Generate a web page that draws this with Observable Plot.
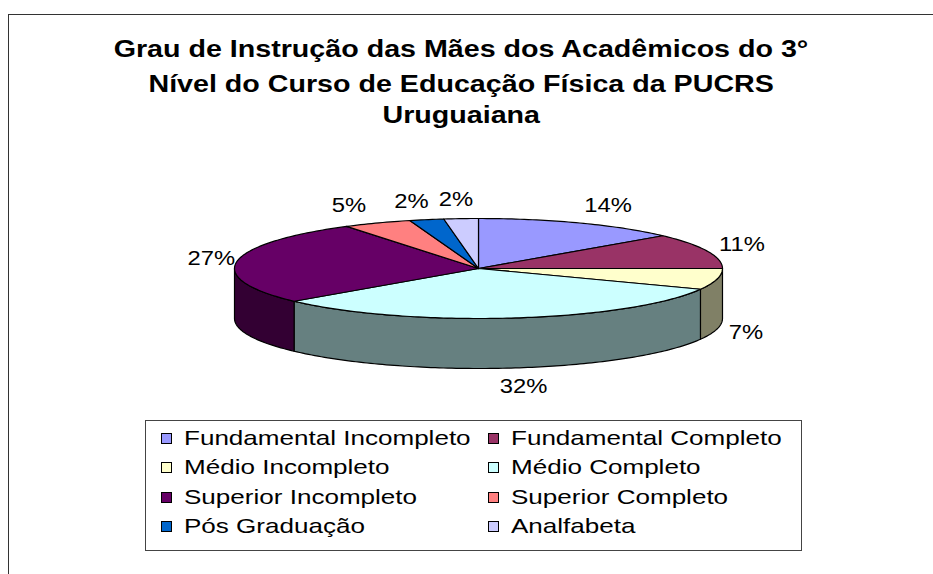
<!DOCTYPE html>
<html>
<head>
<meta charset="utf-8">
<script src="https://cdn.jsdelivr.net/npm/d3@7"></script>
<script src="https://cdn.jsdelivr.net/npm/@observablehq/plot@0.6"></script>
<style>
  body { margin: 0; background: #fff; font-family: "Liberation Sans", Arial, sans-serif; }
  #page { position: relative; width: 933px; height: 574px; overflow: hidden; background: #fff; }
  #frame { position: absolute; left: 8px; top: 14px; width: 1000px; height: 700px;
           border-top: 1.5px solid #333; border-left: 1.5px solid #333; }
  .tl { position: absolute; left: -39px; width: 1000px; text-align: center; font-weight: bold;
        font-size: 23px; line-height: 26px; color: #000; white-space: nowrap; }
  .tl span { display: inline-block; transform: scaleX(1.245); transform-origin: center; }
  #chart { position: absolute; left: 0; top: 150px; }
  #legend { position: absolute; left: 145px; top: 420px; width: 657px; height: 131px;
            border: 1px solid #444; box-sizing: border-box; background: #fff; }
  .sw { position: absolute; width: 11px; height: 11px; border: 1px solid #000; box-sizing: border-box; }
  .lt { position: absolute; font-size: 21px; line-height: 24px; white-space: nowrap; color: #000;
        transform: scaleX(1.24); transform-origin: left center; }
</style>
</head>
<body>
<div id="page">
  <div id="frame"></div>
  <div class="tl" style="top:36px"><span>Grau de Instrução das Mães dos Acadêmicos do 3°</span></div>
  <div class="tl" style="top:71px"><span>Nível do Curso de Educação Física da PUCRS</span></div>
  <div class="tl" style="top:102px"><span>Uruguaiana</span></div>
  <div id="chart"></div>
  <div id="legend"></div>
</div>
<script>
// ---- data ----
const categorias = ["Fundamental Incompleto", "Fundamental Completo", "Médio Incompleto", "Médio Completo",
                    "Superior Incompleto", "Superior Completo", "Pós Graduação", "Analfabeta"];
const frequencias = [6, 5, 3, 14, 12, 2, 1, 1];
const cores = ["#9999FF", "#993366", "#FFFFCC", "#CCFFFF", "#660066", "#FF8080", "#0066CC", "#CCCCFF"];

// ---- derived ----
const total = d3.sum(frequencias);
const rotulos = frequencias.map(f => Math.round(100 * f / total) + "%");
const escuro = c => { const r = d3.rgb(c); return d3.rgb(r.r * 0.5, r.g * 0.5, r.b * 0.5).formatHex(); };
const ladoKey = c => c + " (lateral)";

const fatias = d3.pie().sort(null).value(d => d)(frequencias);
const passo = Math.PI / 180;
const arco = (a0, a1) => {
  const n = Math.max(2, Math.ceil((a1 - a0) / passo));
  return d3.range(n + 1).map(i => a0 + (a1 - a0) * i / n);
};

const laterais = [];
fatias.forEach((p, i) => {
  const s = Math.max(p.startAngle, Math.PI / 2), e = Math.min(p.endAngle, 3 * Math.PI / 2);
  if (e > s) {
    const topo = arco(s, e).map(a => ({x: Math.sin(a), y: Math.cos(a)}));
    const base = arco(s, e).reverse().map(a => ({x: Math.sin(a), y: Math.cos(a) - 1}));
    [...topo, ...base, topo[0]].forEach(pt => laterais.push({...pt, id: "l" + i, key: ladoKey(categorias[i])}));
  }
});

const faces = [];
fatias.forEach((p, i) => {
  const pts = [{x: 0, y: 0}, ...arco(p.startAngle, p.endAngle).map(a => ({x: Math.sin(a), y: Math.cos(a)})), {x: 0, y: 0}];
  pts.forEach(pt => faces.push({...pt, id: "f" + i, key: categorias[i]}));
});

const etiquetas = fatias.map((p, i) => {
  const a = (p.startAngle + p.endAngle) / 2, s = Math.sin(a), c = Math.cos(a);
  return {x: 1.074 * s + 0.225 * s * Math.abs(c), y: 1.37 * c - (c < 0 ? 1 : 0), text: rotulos[i]};
});

const chart = Plot.plot({
  width: 933, height: 260,
  marginLeft: 234, marginRight: 211, marginTop: 68, marginBottom: 42,
  x: {domain: [-1, 1], axis: null},
  y: {domain: [-2, 1], axis: null},
  color: {type: "ordinal", domain: [...categorias, ...categorias.map(ladoKey)], range: [...cores, ...cores.map(escuro)]},
  style: {background: "transparent", overflow: "visible", fontFamily: "Liberation Sans, Arial, sans-serif"},
  marks: [
    Plot.line(laterais, {x: "x", y: "y", z: "id", fill: "key", stroke: "#000", strokeWidth: 1.2, curve: "linear"}),
    Plot.line(faces, {x: "x", y: "y", z: "id", fill: "key", stroke: "#000", strokeWidth: 1.2, curve: "linear"}),
    Plot.text(etiquetas, {x: "x", y: "y", text: "text", fontSize: 19.5, fill: "#000", textAnchor: "middle", lineAnchor: "middle"})
  ]
});
document.getElementById("chart").appendChild(chart);
chart.querySelectorAll("text").forEach(t => {
  const w = t.getComputedTextLength();
  t.setAttribute("textLength", (w * 1.22).toFixed(1));
  t.setAttribute("lengthAdjust", "spacingAndGlyphs");
});

// ---- legend ----
const leg = document.getElementById("legend");
categorias.forEach((c, i) => {
  const col = i % 2, row = Math.floor(i / 2);
  const sx = col === 0 ? 15 : 342;
  const cy = 17 + row * 29.5;
  const sw = document.createElement("div");
  sw.className = "sw";
  sw.style.left = sx + "px";
  sw.style.top = (cy - 5.5) + "px";
  sw.style.background = cores[i];
  leg.appendChild(sw);
  const tx = document.createElement("div");
  tx.className = "lt";
  tx.style.left = (sx + 23) + "px";
  tx.style.top = (cy - 12.5) + "px";
  tx.textContent = c;
  leg.appendChild(tx);
});
</script>
</body>
</html>
